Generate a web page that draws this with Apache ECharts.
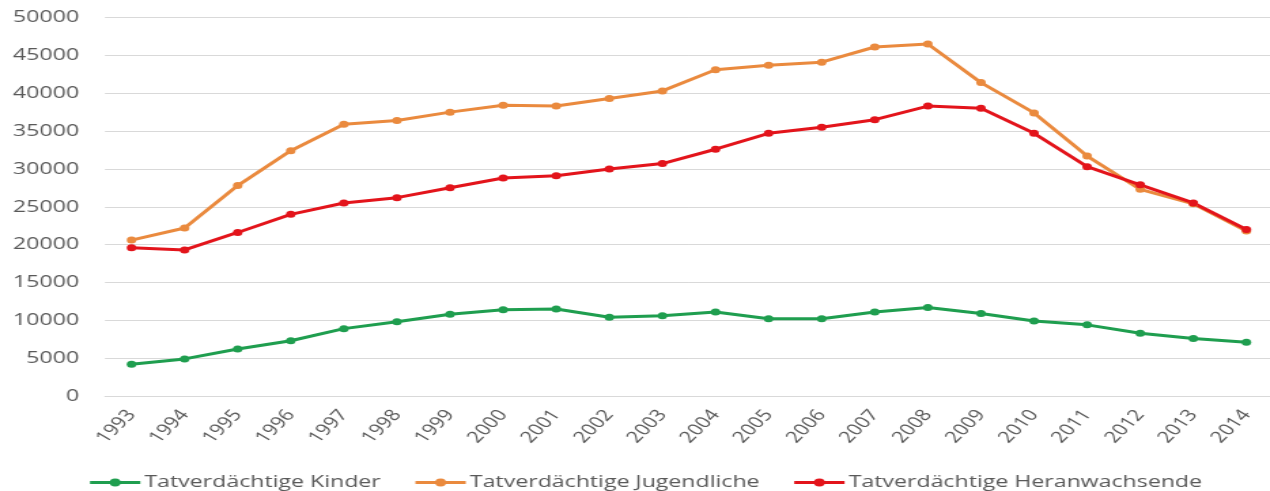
<!DOCTYPE html>
<html>
<head>
<meta charset="utf-8">
<script src="https://cdn.jsdelivr.net/npm/echarts@6/dist/echarts.min.js"></script>
<style>
  html, body { margin: 0; padding: 0; background: #ffffff; overflow: hidden; }
  /* The chart is laid out narrow and widened horizontally, giving the broad lettering of the figure */
  #chart { width: 934px; height: 491px; transform: scaleX(1.3597); transform-origin: 0 0; }
</style>
</head>
<body>
<div id="chart"></div>
<script>
const years = ['1993','1994','1995','1996','1997','1998','1999','2000','2001','2002','2003',
               '2004','2005','2006','2007','2008','2009','2010','2011','2012','2013','2014'];

const kinder = [4200, 4900, 6200, 7300, 8900, 9800, 10800, 11400, 11500, 10400, 10600,
                11100, 10200, 10200, 11100, 11700, 10900, 9900, 9400, 8300, 7600, 7100];

const jugendliche = [20600, 22200, 27800, 32400, 35900, 36400, 37500, 38400, 38300, 39300, 40300,
                     43100, 43700, 44100, 46100, 46500, 41400, 37400, 31700, 27300, 25400, 21800];

const heranwachsende = [19600, 19300, 21600, 24000, 25500, 26200, 27500, 28800, 29100, 30000, 30700,
                        32600, 34700, 35500, 36500, 38300, 38000, 34700, 30300, 27900, 25500, 22000];

const seriesNames = ['Tatverdächtige Kinder', 'Tatverdächtige Jugendliche', 'Tatverdächtige Heranwachsende'];
const seriesColors = ['#1f9e4f', '#ea8a3e', '#e3141b'];
const seriesData = [kinder, jugendliche, heranwachsende];

const textColor = '#595959';
const fontFamily = '"Open Sans", "Noto Sans", sans-serif';

const chart = echarts.init(document.getElementById('chart'), null, { renderer: 'canvas' });

chart.setOption({
  animation: false,
  backgroundColor: '#ffffff',
  grid: {
    left: 77.2,
    top: 17.5,
    width: 859,
    height: 378.5,
    containLabel: false,
    outerBoundsMode: 'none'
  },
  legend: {
    data: seriesNames,
    left: 64.7,
    top: 474,
    padding: 0,
    itemWidth: 37,
    itemHeight: 10,
    itemGap: 24,
    lineStyle: { width: 3 },
    textStyle: { color: textColor, fontSize: 17, fontFamily: fontFamily, padding: [0, 0, 0, -2] }
  },
  xAxis: {
    type: 'category',
    data: years,
    boundaryGap: true,
    axisLine: { show: true, lineStyle: { color: '#d9d9d9', width: 1 } },
    axisTick: { show: false },
    axisLabel: {
      rotate: 52,
      interval: 0,
      margin: 16,
      color: textColor,
      fontSize: 16,
      fontFamily: fontFamily
    },
    splitLine: { show: false }
  },
  yAxis: {
    type: 'value',
    min: 0,
    max: 50000,
    interval: 5000,
    axisLine: { show: false },
    axisTick: { show: false },
    axisLabel: {
      margin: 19,
      color: textColor,
      fontSize: 17,
      fontFamily: fontFamily,
      formatter: (v) => String(v)
    },
    splitLine: { show: true, lineStyle: { color: '#d9d9d9', width: 1 } }
  },
  series: seriesNames.map((name, i) => ({
    name: name,
    type: 'line',
    data: seriesData[i],
    color: seriesColors[i],
    symbol: 'circle',
    symbolSize: 7,
    showSymbol: true,
    lineStyle: { width: 3, color: seriesColors[i] },
    itemStyle: { color: seriesColors[i] },
    emphasis: { disabled: true }
  }))
});
</script>
</body>
</html>
